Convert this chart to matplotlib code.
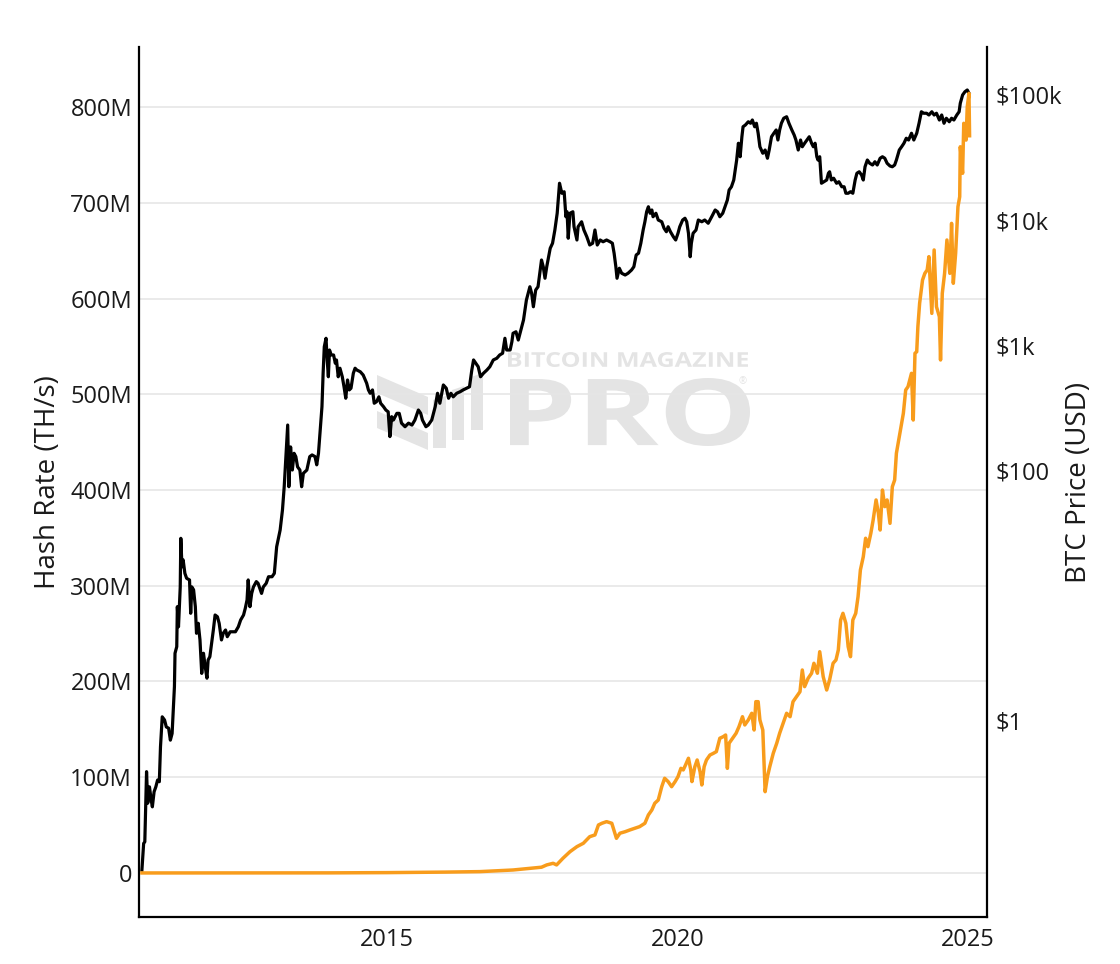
import matplotlib
matplotlib.use("Agg")
import matplotlib.pyplot as plt
from matplotlib import transforms
from matplotlib.ticker import FixedLocator, NullLocator, FixedFormatter
from matplotlib.textpath import TextPath
from matplotlib.patches import PathPatch, Polygon
from matplotlib.font_manager import FontProperties

plt.rcParams['font.family'] = ['Open Sans', 'DejaVu Sans']

# ---------------- data ----------------
# BTC price (USD), right log axis
price_year = [
    2010.78, 2010.81, 2010.83, 2010.86, 2010.88, 2010.91, 2010.94, 2010.96, 2010.99, 2011.02,
    2011.05, 2011.08, 2011.10, 2011.13, 2011.17, 2011.20, 2011.24, 2011.27, 2011.30, 2011.32,
    2011.34, 2011.35, 2011.38, 2011.39, 2011.41, 2011.44, 2011.45, 2011.47, 2011.49, 2011.52,
    2011.55, 2011.60, 2011.62, 2011.64, 2011.67, 2011.70, 2011.72, 2011.75, 2011.78, 2011.81,
    2011.84, 2011.87, 2011.90, 2011.92, 2011.95, 2011.98, 2012.01, 2012.04, 2012.08, 2012.11,
    2012.15, 2012.18, 2012.22, 2012.25, 2012.30, 2012.34, 2012.39, 2012.44, 2012.48, 2012.53,
    2012.56, 2012.59, 2012.61, 2012.64, 2012.67, 2012.70, 2012.75, 2012.78, 2012.84, 2012.87,
    2012.92, 2012.96, 2013.02, 2013.06, 2013.10, 2013.16, 2013.20, 2013.23, 2013.26, 2013.29,
    2013.31,
    2013.34, 2013.37, 2013.40, 2013.43, 2013.46, 2013.50, 2013.53, 2013.56, 2013.62, 2013.67,
    2013.71, 2013.76, 2013.79, 2013.82, 2013.85, 2013.88, 2013.90, 2013.92, 2013.95, 2013.97,
    2013.99,
    2014.01, 2014.04, 2014.08, 2014.11, 2014.13, 2014.16, 2014.19, 2014.23, 2014.26, 2014.29,
    2014.32, 2014.35, 2014.38, 2014.42, 2014.45, 2014.48, 2014.54, 2014.59, 2014.65, 2014.68,
    2014.71, 2014.75, 2014.78, 2014.82, 2014.86, 2014.89, 2014.94, 2014.98,
    2015.02, 2015.05, 2015.08, 2015.11, 2015.17, 2015.21, 2015.25, 2015.31, 2015.37, 2015.43,
    2015.48, 2015.54, 2015.58, 2015.61, 2015.67, 2015.71, 2015.77, 2015.83, 2015.87, 2015.91,
    2015.97,
    2016.02, 2016.06, 2016.10, 2016.14, 2016.20, 2016.26, 2016.31, 2016.37, 2016.42, 2016.46,
    2016.49, 2016.53, 2016.57, 2016.61, 2016.66, 2016.72, 2016.77, 2016.83, 2016.89, 2016.94,
    2016.99,
    2017.03, 2017.06, 2017.12,
    2017.15, 2017.17, 2017.22, 2017.26, 2017.29, 2017.35, 2017.40, 2017.46, 2017.49, 2017.52,
    2017.56, 2017.60, 2017.66, 2017.69, 2017.72, 2017.75, 2017.81, 2017.85, 2017.89, 2017.93,
    2017.97,
    2018.01, 2018.05, 2018.08, 2018.10, 2018.12, 2018.15, 2018.20, 2018.22, 2018.27, 2018.29,
    2018.35, 2018.39, 2018.44, 2018.49, 2018.54, 2018.58, 2018.62, 2018.67, 2018.72, 2018.78,
    2018.84, 2018.88, 2018.91, 2018.94, 2018.96,
    2019.00, 2019.04, 2019.10, 2019.15, 2019.21, 2019.25, 2019.29, 2019.33, 2019.37, 2019.41,
    2019.44, 2019.47, 2019.50, 2019.53, 2019.56, 2019.58, 2019.63, 2019.67, 2019.73, 2019.77,
    2019.81, 2019.84, 2019.88, 2019.93, 2019.97,
    2020.01, 2020.04, 2020.09, 2020.13, 2020.16, 2020.19, 2020.22, 2020.24, 2020.27, 2020.32,
    2020.36, 2020.42, 2020.47, 2020.53, 2020.59, 2020.65, 2020.69, 2020.73, 2020.78, 2020.82,
    2020.86, 2020.89, 2020.93, 2020.97,
    2021.02, 2021.05, 2021.08, 2021.11, 2021.13, 2021.17, 2021.22, 2021.26, 2021.29, 2021.33,
    2021.36, 2021.39, 2021.42, 2021.47, 2021.51, 2021.55, 2021.58, 2021.62, 2021.66, 2021.70,
    2021.73, 2021.76, 2021.79, 2021.83, 2021.88, 2021.92, 2021.97,
    2022.01, 2022.04, 2022.08, 2022.12, 2022.15, 2022.19, 2022.23, 2022.27, 2022.31, 2022.34,
    2022.37, 2022.40, 2022.42, 2022.45, 2022.48, 2022.52, 2022.57, 2022.60, 2022.62, 2022.65,
    2022.69, 2022.74, 2022.78, 2022.83, 2022.87, 2022.90, 2022.94, 2022.98,
    2023.02, 2023.06, 2023.09, 2023.13, 2023.17, 2023.20, 2023.23, 2023.27, 2023.31, 2023.36,
    2023.40, 2023.44, 2023.49, 2023.53, 2023.57, 2023.61, 2023.66, 2023.70, 2023.74, 2023.77,
    2023.82, 2023.86, 2023.90, 2023.94, 2023.98,
    2024.03, 2024.07, 2024.12, 2024.16, 2024.20, 2024.24, 2024.29, 2024.33, 2024.38, 2024.42,
    2024.46, 2024.51, 2024.55, 2024.59, 2024.63, 2024.68, 2024.72, 2024.76, 2024.81, 2024.85,
    2024.87, 2024.91, 2024.95, 2024.99, 2025.02,
]
price_usd = [
    0.063, 0.103, 0.106, 0.386, 0.216, 0.292, 0.229, 0.202, 0.267, 0.292,
    0.331, 0.321, 0.611, 1.06, 1.0, 0.88, 0.86, 0.69, 0.78, 1.2,
    1.85, 3.42, 3.86, 8.06, 5.57, 11.6, 28.4, 16.8, 19.1, 14.9,
    13.6, 13.2, 7.14, 11.6, 11.0, 8.06, 4.94, 5.94, 4.37, 2.36,
    3.42, 2.67, 2.16, 3.02, 3.21, 4.11, 5.25, 6.92, 6.70, 5.94,
    4.37, 4.94, 5.25, 4.64, 5.08, 5.08, 5.08, 5.57, 6.31, 6.92,
    7.83, 9.12, 13.2, 8.06, 10.3, 11.6, 12.8, 12.4, 10.3, 11.6,
    12.4, 14.0, 14.0, 14.9, 24.3, 33.1, 47.9, 73.5, 128, 229,
    73.5,
    153, 100, 136, 128, 106, 100, 73.5, 94.1, 100, 128,
    132, 128, 110, 136, 209, 321, 594, 968, 1132, 759,
    557,
    912, 832, 832, 714, 759, 557, 652, 557, 463, 375,
    525, 437, 451, 594, 652, 631, 611, 575, 494, 437,
    411, 437, 342, 352, 385, 342, 321, 302,
    292, 185, 267, 251, 284, 284, 237, 222, 237, 229,
    251, 302, 284, 251, 222, 229, 251, 321, 411, 342,
    479,
    451, 375, 411, 385, 411, 423, 437, 451, 463, 631,
    759, 714, 670, 557, 594, 631, 670, 759, 783, 832,
    859,
    1132, 912, 912,
    1062, 1241, 1276, 1096, 1241, 1585, 2291, 2924, 2594, 2023,
    2754, 2924, 4786, 4227, 3420, 4227, 5943, 6516, 8318, 11324,
    19679,
    16368, 16827, 10617, 11641, 7145, 11324, 11641, 8831, 6918, 8831,
    9683, 8318, 7345, 6310, 6516, 8318, 6310, 6918, 6699, 6918,
    6699, 6516, 5420, 4227, 3420,
    4111, 3750, 3631, 3750, 3981, 4227, 5248, 5420, 6516, 8318,
    9683, 11641, 12764, 11324, 12023, 10617, 11324, 10000, 9683, 8590,
    8054, 8831, 8054, 7345, 6918,
    7834, 8831, 10000, 10328, 9683, 7834, 5082, 6516, 7834, 8318,
    10000, 9683, 10000, 9419, 10617, 12023, 11641, 10617, 11324, 12764,
    14454, 17378, 18450, 20893,
    30200, 41115, 32063, 46345, 55719, 57544, 61094, 59429, 63096, 55719,
    59429, 49431, 38548, 34198, 36308, 31189, 36308, 46345, 49431, 52481,
    43652, 52481, 59429, 65163, 66988, 59429, 52481,
    47863, 43652, 36308, 43652, 38548, 41115, 43652, 46345, 41115, 38548,
    41115, 32063, 30200, 32063, 19679, 20230, 20893, 23659, 24322, 20893,
    21577, 19679, 20230, 18450, 18450, 16368, 16368, 16827,
    16368, 20893, 23659, 24322, 22909, 20893, 26669, 30200, 28445, 27542,
    29242, 27542, 31189, 32063, 31189, 28445, 27040, 26669, 27542, 30200,
    36308, 38548, 41115, 45082, 43652,
    49431, 43652, 49431, 59429, 73451, 71450, 71450, 69183, 73451, 69183,
    71450, 63096, 69183, 59429, 65163, 61094, 65163, 63096, 69183, 73451,
    85901, 100000, 106170, 109648, 103276,
]

# Hash rate (millions of TH/s), left linear axis
hash_year = [
    2010.78, 2012.00, 2013.00, 2014.00, 2015.00, 2016.00, 2016.60, 2017.17, 2017.66, 2017.75,
    2017.86, 2017.92, 2018.03, 2018.15, 2018.27, 2018.38, 2018.49, 2018.58, 2018.64, 2018.70,
    2018.78, 2018.87, 2018.95, 2019.01, 2019.10, 2019.18, 2019.27, 2019.35, 2019.44, 2019.50,
    2019.56, 2019.61, 2019.67, 2019.73, 2019.78, 2019.84, 2019.90, 2019.96, 2020.01, 2020.06,
    2020.10, 2020.14, 2020.19, 2020.23, 2020.25, 2020.30, 2020.34, 2020.39, 2020.42, 2020.46,
    2020.50, 2020.56, 2020.62, 2020.67, 2020.73, 2020.79, 2020.83, 2020.86, 2020.89, 2020.95,
    2021.01, 2021.06, 2021.12, 2021.16, 2021.22, 2021.28, 2021.32, 2021.35, 2021.39, 2021.42,
    2021.47, 2021.51, 2021.55, 2021.59, 2021.65, 2021.71, 2021.76, 2021.82, 2021.88, 2021.94,
    2021.99, 2022.05, 2022.11, 2022.15, 2022.19, 2022.25, 2022.31, 2022.35, 2022.41, 2022.45,
    2022.51, 2022.57, 2022.62, 2022.68, 2022.73, 2022.77, 2022.81, 2022.85, 2022.90, 2022.94,
    2022.98, 2023.02, 2023.07, 2023.11, 2023.15, 2023.20, 2023.24, 2023.28, 2023.33, 2023.37,
    2023.42, 2023.46, 2023.49, 2023.53, 2023.57, 2023.61, 2023.66, 2023.70, 2023.74, 2023.77,
    2023.84, 2023.89, 2023.93, 2023.97, 2024.03, 2024.06, 2024.09, 2024.12, 2024.14, 2024.17,
    2024.22, 2024.26, 2024.30, 2024.33, 2024.38, 2024.42, 2024.46, 2024.51, 2024.53, 2024.56,
    2024.60, 2024.64, 2024.69, 2024.72, 2024.75, 2024.79, 2024.83, 2024.86, 2024.87, 2024.91,
    2024.93, 2024.97, 2024.99, 2025.02, 2025.03,
]
hash_mths = [
    0.0, 0.01, 0.02, 0.1, 0.35, 0.9, 1.4, 3.1, 6.0, 8.4,
    10.1, 8.4, 15.4, 22.2, 27.5, 31.0, 37.9, 39.7, 50.1, 51.9,
    53.6, 51.9, 36.2, 41.5, 43.1, 44.9, 46.7, 48.4, 51.9, 60.6,
    65.8, 72.8, 76.2, 90.1, 98.9, 95.4, 90.1, 95.4, 100.6, 109.3,
    107.6, 112.8, 119.8, 107.6, 95.4, 111.0, 118.0, 105.8, 91.9, 111.0,
    118.0, 123.2, 125.0, 126.7, 140.7, 142.4, 144.1, 109.3, 135.5, 140.7,
    145.9, 152.8, 163.2, 154.6, 159.8, 166.8, 149.3, 178.9, 178.9, 159.8,
    149.3, 84.9, 100.6, 111.0, 125.0, 135.5, 145.9, 156.3, 166.8, 163.2,
    178.9, 184.1, 189.3, 212.0, 194.6, 203.3, 208.6, 219.0, 208.6, 231.1,
    205.0, 191.1, 201.6, 219.0, 222.5, 232.9, 264.2, 271.2, 260.8, 236.3,
    225.9, 264.2, 271.2, 288.6, 316.4, 330.3, 349.6, 340.8, 354.8, 368.7,
    389.6, 375.7, 358.2, 400.0, 382.6, 389.6, 365.2, 403.4, 410.4, 438.3,
    462.7, 480.1, 504.4, 507.9, 521.9, 473.1, 542.8, 544.4, 570.6, 595.0,
    619.3, 626.3, 629.8, 643.7, 584.5, 650.7, 591.4, 581.0, 535.8, 605.4,
    626.3, 661.1, 626.3, 678.5, 615.9, 647.2, 695.9, 706.3, 758.5, 730.8,
    783.0, 765.5, 800.3, 814.3, 770.0,
]

hash_ticks = [0, 100, 200, 300, 400, 500, 600, 700, 800]
hash_tick_labels = ['0', '100M', '200M', '300M', '400M', '500M', '600M', '700M', '800M']
price_ticks = [1, 100, 1000, 10000, 100000]
price_tick_labels = [r'\$1', r'\$100', r'\$1k', r'\$10k', r'\$100k']
year_ticks = [2015, 2020, 2025]
year_tick_labels = ['2015', '2020', '2025']

# ---------------- figure ----------------
W, H = 1120, 964
fig = plt.figure(figsize=(W / 100, H / 100), dpi=100)
fig.patch.set_facecolor('white')
L, R, T, B = 139, 987, 47, 917
ax_h = fig.add_axes([L / W, 1 - B / H, (R - L) / W, (B - T) / H])
ax_p = ax_h.twinx()
ax_h.set_zorder(2)
ax_p.set_zorder(1)
ax_h.patch.set_visible(False)
ax_p.patch.set_visible(False)

ax_h.set_xlim(2010.73, 2025.33)
ax_h.set_ylim(-46, 862.7)
ax_p.set_yscale('log')
ax_p.set_ylim(0.02655, 242100)

# watermark (drawn beneath the axes)
wm_color = '#e4e4e4'
def stamp(text, x0, x1, ytop, ybot, weight='bold'):
    fp = FontProperties(family='Open Sans', weight=weight)
    tp = TextPath((0, 0), text, size=100, prop=fp)
    bb = tp.get_extents()
    sx = (x1 - x0) / bb.width
    sy = (ybot - ytop) / bb.height
    tr = transforms.Affine2D().translate(-bb.x0, -bb.y0).scale(sx, sy).translate(x0, H - ybot)
    fig.add_artist(PathPatch(tp, transform=tr, fc=wm_color, ec='none', zorder=0.5))

stamp('BITCOIN MAGAZINE', 508, 748, 352, 367)
stamp('PRO', 510, 750, 378, 446)
fig.text(743 / W, 1 - 382 / H, '®', fontsize=7, color=wm_color, ha='center', va='center', zorder=0.5)
logo = [
    [(377, 375), (428, 397), (428, 415), (377, 393)],
    [(377, 411), (428, 433), (428, 450), (377, 428)],
    [(433, 400), (446, 396), (446, 448), (433, 448)],
    [(452, 390), (464, 386), (464, 440), (452, 440)],
    [(471, 377), (483, 373), (483, 430), (471, 430)],
]
for poly in logo:
    pts = [(x, H - y) for x, y in poly]
    fig.add_artist(Polygon(pts, closed=True, transform=transforms.IdentityTransform(),
                           fc=wm_color, ec='none', zorder=0.5))

# gridlines at the hash-rate ticks, drawn beneath both lines
blend = transforms.blended_transform_factory(ax_p.transAxes, ax_h.transData)
for v in hash_ticks:
    ax_p.plot([0, 1], [v, v], transform=blend, color='#e6e6e6', lw=1.2, zorder=0)

# series
ax_p.plot(price_year, price_usd, color='black', lw=2.3, solid_joinstyle='round', zorder=3)
ax_h.plot(hash_year, hash_mths, color='#f89c1c', lw=2.5, solid_joinstyle='round', zorder=3)

# axes styling
for ax in (ax_h, ax_p):
    ax.spines['top'].set_visible(False)
ax_h.spines['right'].set_visible(False)
ax_p.spines['left'].set_visible(False)
ax_p.spines['bottom'].set_visible(False)
for sp in (ax_h.spines['left'], ax_h.spines['bottom'], ax_p.spines['right']):
    sp.set_linewidth(1.6)
    sp.set_color('black')

ax_h.xaxis.set_major_locator(FixedLocator(year_ticks))
ax_h.xaxis.set_major_formatter(FixedFormatter(year_tick_labels))
ax_h.yaxis.set_major_locator(FixedLocator(hash_ticks))
ax_h.yaxis.set_major_formatter(FixedFormatter(hash_tick_labels))
ax_p.yaxis.set_major_locator(FixedLocator(price_ticks))
ax_p.yaxis.set_major_formatter(FixedFormatter(price_tick_labels))
ax_p.yaxis.set_minor_locator(NullLocator())

tick_color = '#1a1a1a'
ax_h.tick_params(axis='x', length=0, pad=8, labelsize=17, labelcolor=tick_color)
ax_h.tick_params(axis='y', length=0, pad=5, labelsize=17, labelcolor=tick_color)
ax_p.tick_params(axis='y', which='both', length=0, pad=6, labelsize=17, labelcolor=tick_color)

ax_h.set_ylabel('Hash Rate (TH/s)', fontsize=20, color=tick_color, labelpad=6)
ax_p.set_ylabel('BTC Price (USD)', fontsize=20, color=tick_color, labelpad=2)

fig.savefig('out.png', dpi=100, facecolor='white')
